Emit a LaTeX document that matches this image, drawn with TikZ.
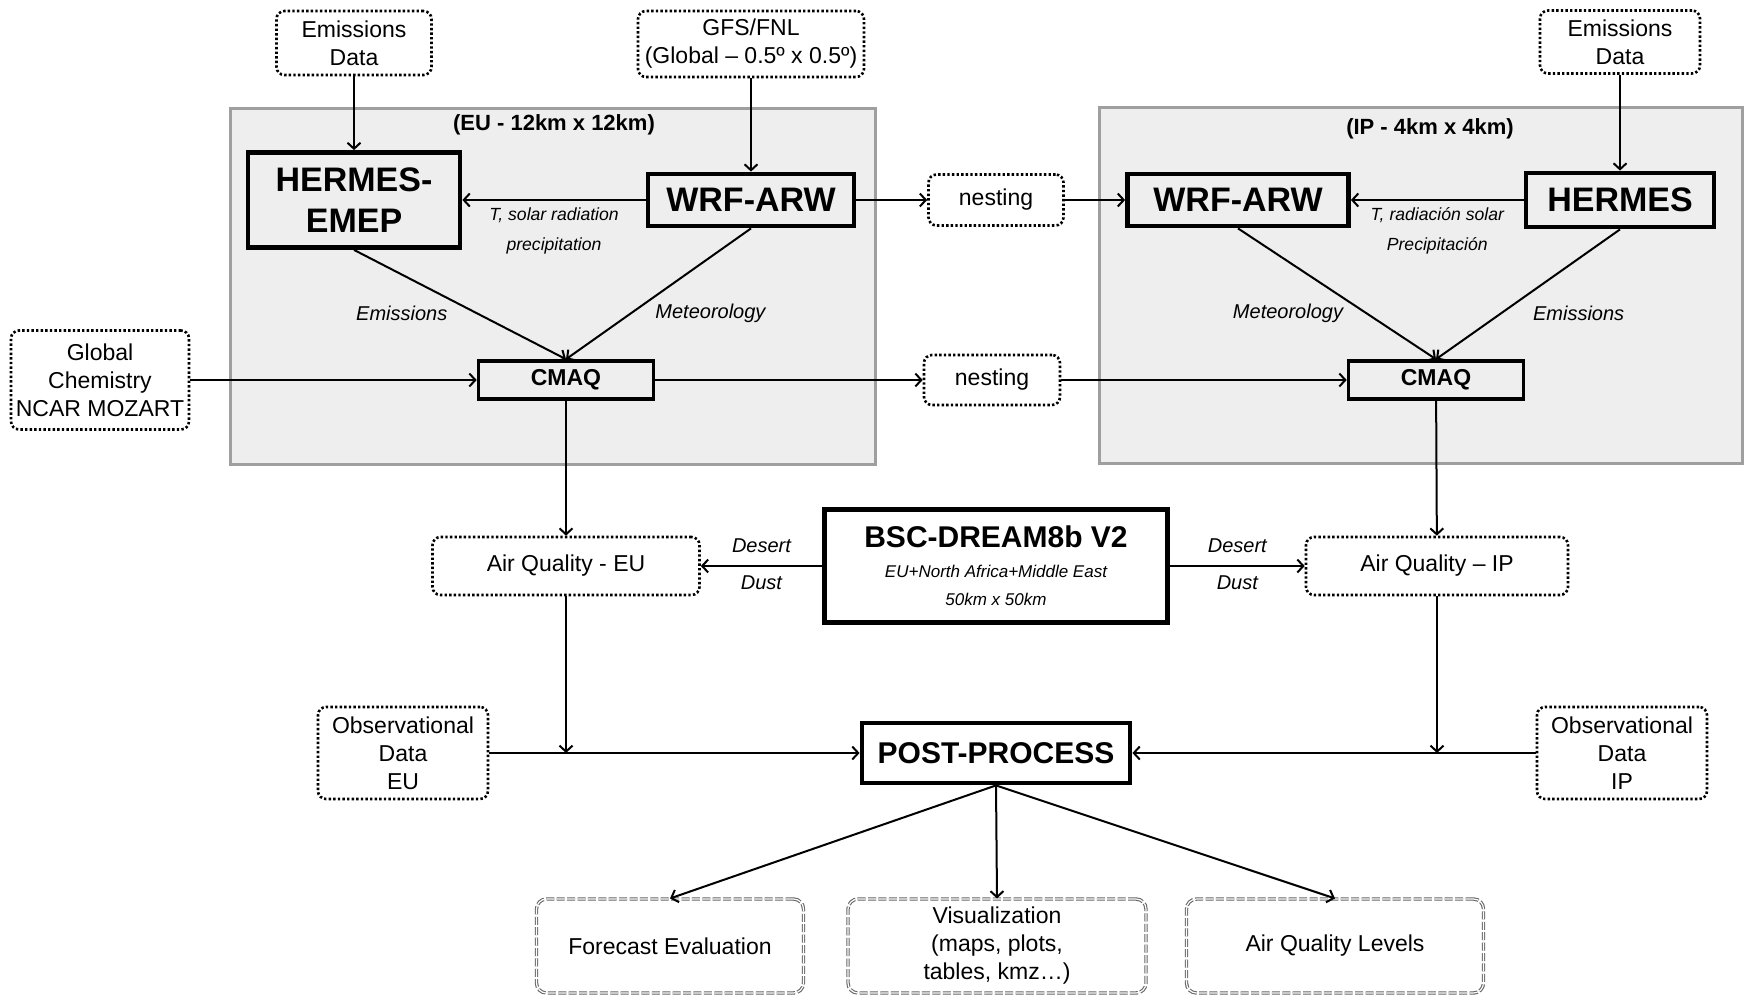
\documentclass[tikz,border=0pt]{standalone}
\usepackage{fontspec}
\setmainfont{Liberation Sans}
\usetikzlibrary{arrows.meta}

\begin{document}
\begin{tikzpicture}[
        x=0.5pt, y=-0.5pt,
        >={Straight Barb[length=3pt,width=6.5pt]},
        every node/.style={font=\fontsize{11.5}{14}\selectfont, align=center},
        databox/.style={rectangle, draw=black, line width=1.3pt, dash pattern=on 1.2pt off 1.1pt, rounded corners=4pt, inner sep=1pt},
        modelbox/.style={rectangle, draw=black, line width=2.4pt, font=\fontsize{17}{20.5}\selectfont\bfseries},
        cmaqbox/.style={rectangle, draw=black, line width=1.8pt, font=\fontsize{11.5}{14}\selectfont\bfseries},
        outbox/.style={rectangle, draw=black!60, line width=0.55pt, double=white, double distance=0.6pt, dash pattern=on 4pt off 1.2pt, rounded corners=5pt},
        panel/.style={rectangle, draw=gray!75, fill=gray!13, line width=1.5pt, inner sep=0pt},
        paneltitle/.style={font=\fontsize{11}{12}\selectfont\bfseries},
        line/.style={->, line width=1pt},
        lbl/.style={font=\fontsize{10}{12}\selectfont\itshape},
        smalllbl/.style={font=\fontsize{8.8}{15}\selectfont\itshape}
    ]
    \useasboundingbox (0,0) rectangle (1744,996);

    % --- Domains ---
    \node[panel, minimum width=322.5pt, minimum height=178pt] (panelEU) at (552.5,286) {};
    \node[panel, minimum width=321.5pt, minimum height=178pt] (panelIP) at (1420.5,285) {};
    \node[paneltitle] (titleEU) at (554,125) {(EU - 12km x 12km)};
    \node[paneltitle] (titleIP) at (1430,129) {(IP - 4km x 4km)};

    % --- Input data ---
    \node[databox, minimum width=77.5pt, minimum height=32pt] (emisEU) at (354,43) {Emissions\\Data};
    \node[databox, minimum width=113pt, minimum height=33pt] (gfs) at (751,44) {GFS/FNL\\(Global – 0.5º x 0.5º)};
    \node[databox, minimum width=80pt, minimum height=31.5pt] (emisIP) at (1620,42) {Emissions\\Data};
    \node[databox, minimum width=89pt, minimum height=49.5pt] (globchem) at (100,380) {Global\\Chemistry\\NCAR MOZART};

    % --- Models ---
    \node[modelbox, minimum width=106pt, minimum height=47.5pt] (hermesEU) at (354,200) {HERMES-\\EMEP};
    \node[modelbox, minimum width=103pt, minimum height=26pt] (wrfEU) at (751,200) {WRF-ARW};
    \node[databox, minimum width=67.5pt, minimum height=25.5pt] (nestTop) at (996,200) {nesting};
    \node[modelbox, minimum width=110.5pt, minimum height=26pt] (wrfIP) at (1238,200) {WRF-ARW};
    \node[modelbox, minimum width=94pt, minimum height=27pt] (hermesIP) at (1620,200) {HERMES};

    \node[cmaqbox, minimum width=87.5pt, minimum height=19pt] (cmaqEU) at (566,380) {CMAQ};
    \node[databox, minimum width=68pt, minimum height=25pt] (nestBot) at (992,380) {nesting};
    \node[cmaqbox, minimum width=87.5pt, minimum height=19pt] (cmaqIP) at (1436,380) {CMAQ};

    \node[databox, minimum width=133.5pt, minimum height=29pt] (aqEU) at (566,566) {Air Quality - EU};
    \node[modelbox, minimum width=171.5pt, minimum height=56.5pt, font=\fontsize{8.5}{14}\selectfont\itshape] (bsc) at (996,566)
        {{\fontsize{15}{18}\selectfont\bfseries\upshape BSC-DREAM8b V2}\\[1pt] EU+North Africa+Middle East\\ 50km x 50km};
    \node[databox, minimum width=131pt, minimum height=29pt] (aqIP) at (1437,566) {Air Quality – IP};

    % --- Post-processing ---
    \node[databox, minimum width=85pt, minimum height=46pt] (obsEU) at (403,753) {Observational\\Data\\EU};
    \node[modelbox, minimum width=134pt, minimum height=30pt, font=\fontsize{15}{18}\selectfont\bfseries] (post) at (996,753) {POST-PROCESS};
    \node[databox, minimum width=85pt, minimum height=46pt] (obsIP) at (1622,753) {Observational\\Data\\IP};

    \node[outbox, minimum width=133.5pt, minimum height=47pt] (fcst) at (670,946) {Forecast Evaluation};
    \node[outbox, minimum width=149pt, minimum height=47pt] (visu) at (997,946) {Visualization\\(maps, plots,\\tables, kmz…)};
    \node[outbox, minimum width=148.5pt, minimum height=47pt] (aqlev) at (1335,946) {Air Quality Levels};

    % --- EU connections ---
    \draw[line] (emisEU) -- (hermesEU);
    \draw[line] (gfs) -- (wrfEU);
    \draw[line] (wrfEU) -- (hermesEU) node[midway, below, smalllbl] {T, solar radiation\\precipitation};
    \draw[line] (hermesEU.south) -- (cmaqEU.north) node[pos=0.58, left=11pt, lbl] {Emissions};
    \draw[line] (wrfEU.south) -- (cmaqEU.north) node[pos=0.65, right=8.5pt, lbl] {Meteorology};
    \draw[line] (globchem) -- (cmaqEU);

    % --- Nesting ---
    \draw[line] (wrfEU) -- (nestTop);
    \draw[line] (nestTop) -- (wrfIP);
    \draw[line] (cmaqEU) -- (nestBot);
    \draw[line] (nestBot) -- (cmaqIP);

    % --- IP connections ---
    \draw[line] (emisIP) -- (hermesIP);
    \draw[line] (hermesIP) -- (wrfIP) node[midway, below, smalllbl] {T, radiación solar\\Precipitación};
    \draw[line] (wrfIP.south) -- (cmaqIP.north) node[pos=0.65, left=8pt, lbl] {Meteorology};
    \draw[line] (hermesIP.south) -- (cmaqIP.north) node[pos=0.65, right=12.5pt, lbl] {Emissions};

    % --- Air quality and dust ---
    \draw[line] (cmaqEU) -- (aqEU);
    \draw[line] (cmaqIP) -- (aqIP);
    \draw[line] (bsc) -- (aqEU) node[midway, above=3pt, lbl] {Desert} node[midway, below=1pt, lbl] {Dust};
    \draw[line] (bsc) -- (aqIP) node[midway, above=3pt, lbl] {Desert} node[midway, below=1pt, lbl] {Dust};

    % --- Post-process ---
    \draw[line] (aqEU) -- (aqEU |- post.west);
    \draw[line] (aqIP) -- (aqIP |- post.east);
    \draw[line] (obsEU) -- (post);
    \draw[line] (obsIP) -- (post);
    \draw[line] (post.south) -- (fcst.north);
    \draw[line] (post.south) -- (visu.north);
    \draw[line] (post.south) -- (aqlev.north);
\end{tikzpicture}
\end{document}
